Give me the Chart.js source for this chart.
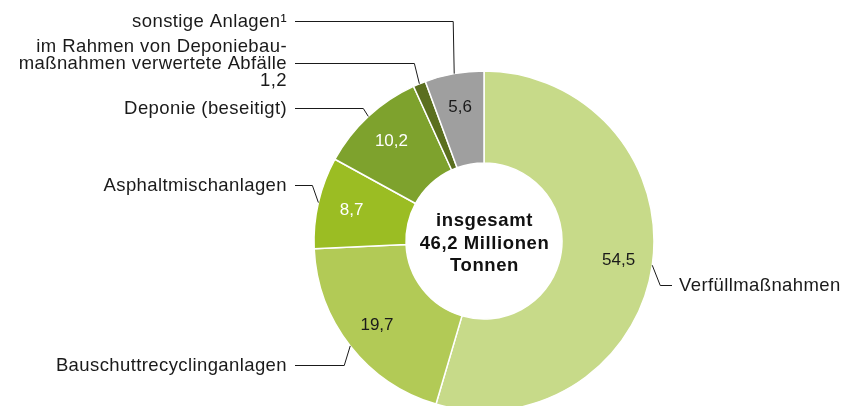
<!DOCTYPE html>
<html><head><meta charset="utf-8">
<script src="https://cdn.jsdelivr.net/npm/chart.js@4.4.1/dist/chart.umd.min.js"></script>
<style>html,body{margin:0;padding:0;background:#fff;}#wrap{width:847px;height:406px;position:relative;}</style>
</head><body><div id="wrap"><canvas id="c"></canvas></div>
<script>
// ---- data ----
const categories = ['Verfüllmaßnahmen', 'Bauschuttrecyclinganlagen', 'Asphaltmischanlagen', 'Deponie (beseitigt)', 'im Rahmen von Deponiebaumaßnahmen verwertete Abfälle', 'sonstige Anlagen¹'];
const shares = [54.5, 19.7, 8.7, 10.2, 1.2, 5.6];
const valueTexts = ['54,5', '19,7', '8,7', '10,2', '1,2', '5,6'];
const valueInside = [true, true, true, true, false, true];
const calloutTexts = [['Verfüllmaßnahmen'], ['Bauschuttrecyclinganlagen'], ['Asphaltmischanlagen'], ['Deponie (beseitigt)'], ['im Rahmen von Deponiebau-', 'maßnahmen verwertete Abfälle'], ['sonstige Anlagen¹']];
const totalTexts = ['insgesamt', '46,2 Millionen', 'Tonnen'];

// ---- style ----
const sliceColors = ['#c7da89', '#b2ca56', '#9bbd23', '#7ea22d', '#5b6f1f', '#9f9f9f'];
const valueTextColors = ['#1a1a1a', '#1a1a1a', '#ffffff', '#ffffff', '#1a1a1a', '#1a1a1a'];
const FONT = '"Liberation Sans", Arial, Helvetica, sans-serif';
const TEXT = '#1a1a1a';
const layoutCallout = {
  lineY: [285, 365, 185, 108, 63, 21],
  elbowDx: [8, -6, -6, -5, -5, -1],
  side: ['right', 'left', 'left', 'left', 'left', 'left'],
  baselines: [[6], [6], [6], [6], [-11, 6, 23], [6]]
};

const labelPlugin = {
  id: 'labels',
  afterDatasetsDraw(chart) {
    const ctx = chart.ctx;
    const meta = chart.getDatasetMeta(0);
    ctx.save();
    let cx = 0, cy = 0;
    meta.data.forEach((arc, i) => {
      const p = arc.getProps(['x', 'y', 'startAngle', 'endAngle', 'outerRadius', 'innerRadius'], true);
      cx = p.x; cy = p.y;
      const mid = (p.startAngle + p.endAngle) / 2;
      // inside value
      if (valueInside[i]) {
        const r = p.outerRadius * 0.8;
        ctx.font = '17px ' + FONT;
        ctx.letterSpacing = '0px';
        ctx.fillStyle = valueTextColors[i];
        ctx.textAlign = 'center';
        ctx.textBaseline = 'middle';
        ctx.fillText(valueTexts[i], p.x + Math.cos(mid) * r, p.y + Math.sin(mid) * r);
      }
      // callout line
      const ax = p.x + Math.cos(mid) * p.outerRadius;
      const ay = p.y + Math.sin(mid) * p.outerRadius;
      const ly = Math.round(layoutCallout.lineY[i]) + 0.5;
      const ex = ax + layoutCallout.elbowDx[i];
      const right = layoutCallout.side[i] === 'right';
      const endX = right ? 672 : 295;
      ctx.strokeStyle = TEXT;
      ctx.lineWidth = 1;
      ctx.beginPath();
      ctx.moveTo(ax, ay);
      ctx.lineTo(ex, ly);
      ctx.lineTo(endX, ly);
      ctx.stroke();
      // callout text
      const lines = calloutTexts[i].slice();
      if (!valueInside[i]) lines.push(valueTexts[i]);
      ctx.font = '18.5px ' + FONT;
      ctx.letterSpacing = '0.4px';
      ctx.fillStyle = TEXT;
      ctx.textBaseline = 'alphabetic';
      ctx.textAlign = right ? 'left' : 'right';
      const tx = right ? 679 : 287;
      lines.forEach((t, k) => {
        ctx.fillText(t, tx, layoutCallout.lineY[i] + layoutCallout.baselines[i][k]);
      });
    });
    // center total
    ctx.font = 'bold 18.5px ' + FONT;
    ctx.letterSpacing = '0.6px';
    ctx.fillStyle = '#111';
    ctx.textAlign = 'center';
    ctx.textBaseline = 'alphabetic';
    const offs = [-15, 8, 30];
    totalTexts.forEach((t, k) => ctx.fillText(t, cx + 0.5, cy + offs[k]));
    ctx.restore();
  }
};

new Chart(document.getElementById('c'), {
  type: 'doughnut',
  data: {
    labels: categories,
    datasets: [{
      data: shares,
      backgroundColor: sliceColors,
      borderColor: '#ffffff',
      borderWidth: 1.5,
      hoverOffset: 0
    }]
  },
  options: {
    responsive: true,
    maintainAspectRatio: false,
    animation: false,
    events: [],
    radius: 170,
    cutout: '45.9%',
    layout: { padding: { left: 319, right: 198, top: 76, bottom: 0 } },
    plugins: { legend: { display: false }, tooltip: { enabled: false } }
  },
  plugins: [labelPlugin]
});
</script>
</body></html>
